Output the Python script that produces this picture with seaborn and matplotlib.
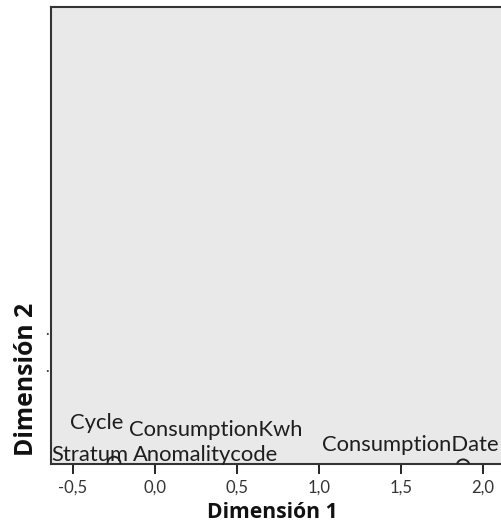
import matplotlib
matplotlib.use("Agg")
import matplotlib.pyplot as plt
import seaborn as sns
import pandas as pd

# Object points (category quantifications) on the two dimensions
point_dim1 = [-0.25, 1.88]
point_dim2 = [0.002, -0.004]

# Variable labels and where they sit in the plane
var_names = ["Cycle", "Stratum", "ConsumptionKwh", "Anomalitycode", "ConsumptionDate"]
label_dim1 = [-0.354, -0.400, 0.372, 0.311, 1.556]
label_dim2 = [0.090, 0.020, 0.074, 0.020, 0.042]

x_ticks = [-0.5, 0.0, 0.5, 1.0, 1.5, 2.0]
x_tick_labels = ["-0,5", "0,0", "0,5", "1,0", "1,5", "2,0"]
y_ticks = [0.205, 0.287]

sns.set_theme(style="ticks")
plt.rcParams["font.family"] = ["Lato", "DejaVu Sans"]

fig = plt.figure(figsize=(5.02, 5.27), dpi=100)
ax = fig.add_axes([0.101, 0.1195, 0.926, 0.867])
ax.set_facecolor("#e9e9e9")

points = pd.DataFrame({"d1": point_dim1, "d2": point_dim2})
sns.scatterplot(data=points, x="d1", y="d2", ax=ax, marker="o", s=85,
                facecolors="none", edgecolor="#222222", linewidth=1.4,
                clip_on=True, zorder=3)

for name, x, y in zip(var_names, label_dim1, label_dim2):
    ax.text(x, y, name, ha="center", va="center", fontsize=15.8,
            color="#1e1e1e", zorder=4)

ax.set_xlim(-0.636, 2.2)
ax.set_ylim(0, 1)

ax.set_xticks(x_ticks)
ax.set_xticklabels(x_tick_labels)
ax.tick_params(axis="x", direction="out", length=7.5, width=1.4,
               color="#222222", pad=4, labelsize=12, labelcolor="#333333")
ax.set_yticks(y_ticks)
ax.set_yticklabels(["\u00b7", "\u00b7"])
ax.tick_params(axis="y", length=0, pad=1, labelsize=10, labelcolor="#333333")

for side in ["left", "top", "bottom", "right"]:
    ax.spines[side].set_color("#333333")
    ax.spines[side].set_linewidth(1.5)

ax.set_xlabel("Dimensión 1", fontsize=15.2, fontweight="bold",
              family=["Open Sans", "DejaVu Sans"], color="#111111", va="center")
ax.set_ylabel("Dimensión 2", fontsize=17.8, fontweight="bold",
              family=["Open Sans", "DejaVu Sans"], color="#111111", va="center")
ax.xaxis.set_label_coords(0.476, -0.107)
ax.yaxis.set_label_coords(-0.053, 0.186)

fig.savefig("out.png", dpi=100)
